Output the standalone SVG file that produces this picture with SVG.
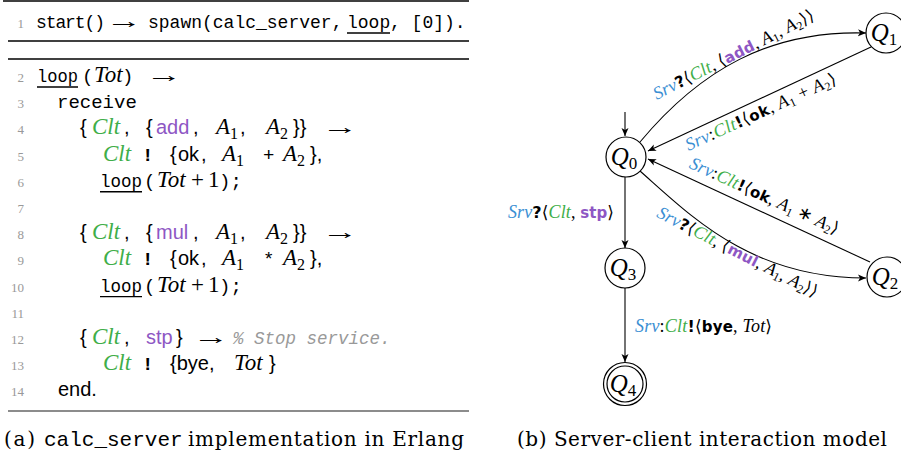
<svg xmlns="http://www.w3.org/2000/svg" width="901" height="460" viewBox="0 0 901 460">
<style>
.ln{font-family:"Liberation Serif",serif;font-size:13px;fill:#999;text-anchor:end}
.tt{font-family:"Liberation Mono",monospace;font-size:19px}
.t1{font-family:"Liberation Mono",monospace;font-size:18px}
.tb{font-family:"Liberation Mono",monospace;font-size:19px;font-weight:bold}
.sf{font-family:"Liberation Sans",sans-serif;font-size:20px}
.mi{font-family:"Liberation Serif",serif;font-style:italic;font-size:23px}
.rm{font-family:"Liberation Serif",serif;font-size:23px}
.sb{font-family:"Liberation Serif",serif;font-style:normal;font-size:16px}
.ar{font-family:"Liberation Serif",serif;font-size:22px}
.cm{font-family:"Liberation Mono",monospace;font-style:italic;font-size:17.5px;fill:#999}
.g{fill:#3fae49}.p{fill:#8e57c4}.b{fill:#3b8fd3}
.ul{stroke:#000;stroke-width:1.4}
.rule{stroke:#000;stroke-width:1.4}
.cap{font-family:"DejaVu Serif",serif;font-size:20px}
.capt{font-family:"Liberation Mono",monospace;font-size:21px}
.li{font-family:"Liberation Serif",serif;font-style:italic;font-size:18px}
.lr{font-family:"Liberation Serif",serif;font-size:18px}
.lb{font-family:"DejaVu Sans",sans-serif;font-weight:bold;font-size:15px}
.lq{font-family:"DejaVu Sans",sans-serif;font-weight:bold;font-size:16px}
.an{font-family:"DejaVu Serif",serif;font-size:17px}
.ls{font-family:"Liberation Serif",serif;font-size:12px}
.node{fill:#fff;stroke:#000;stroke-width:1.2}
.q{font-family:"Liberation Serif",serif;font-style:italic;font-size:25px}
.qs{font-family:"Liberation Serif",serif;font-style:normal;font-size:17px}
.edge{fill:none;stroke:#000;stroke-width:1.1;marker-end:url(#ah)}
</style>
<defs>
<marker id="ah" markerUnits="userSpaceOnUse" markerWidth="10" markerHeight="8" refX="8" refY="4" orient="auto">
<path d="M0,0.5 L8,4 L0,7.5 L2,4 z" fill="#000"/>
</marker>
</defs>
<rect width="901" height="460" fill="#fff"/>

<g id="listing">
<line class="rule" x1="3" y1="1" x2="469" y2="1"/>
<line class="rule" x1="8" y1="41" x2="469" y2="41"/>
<line class="rule" x1="8" y1="59" x2="469" y2="59"/>
<line x1="8" y1="411" x2="469" y2="411" stroke="#666" stroke-width="1.5"/>

<text class="ln" x="24" y="28">1</text>
<text class="t1" x="36" y="28" textLength="69">start()</text>
<text class="ar" transform="translate(106,28) scale(1.65,1)">→</text>
<text class="t1" x="148" y="28">spawn(calc_server,</text>
<text class="t1" x="347" y="28">loop</text>
<line class="ul" x1="347" y1="33" x2="390" y2="33"/>
<text class="t1" x="390" y="28">, [0]).</text>

<text class="ln" x="24" y="82">2</text>
<text class="tt" x="37" y="82" textLength="41" lengthAdjust="spacingAndGlyphs">loop</text>
<line class="ul" x1="37" y1="87" x2="78" y2="87"/>
<text class="tt" x="82" y="82">(</text>
<text class="mi" x="94" y="82">Tot</text>
<text class="tt" x="122" y="82">)</text>
<text class="ar" transform="translate(146,82) scale(1.65,1)">→</text>

<text class="ln" x="24" y="108.2">3</text>
<text class="tt" x="57" y="108.2">receive</text>

<text class="ln" x="24" y="134.4">4</text>
<text class="sf" x="80" y="134.4">{</text>
<text class="mi g" x="92" y="134.4">Clt</text>
<text class="sf" x="124" y="134.4">,</text>
<text class="sf" x="146" y="134.4">{</text>
<text class="sf p" x="156" y="134.4">add</text>
<text class="sf" x="193" y="134.4">,</text>
<text class="mi" x="216" y="134.4">A<tspan class="sb" dy="5">1</tspan></text>
<text class="sf" x="240" y="134.4">,</text>
<text class="mi" x="266" y="134.4">A<tspan class="sb" dy="5">2</tspan></text>
<text class="sf" x="293" y="134.4">}}</text>
<text class="ar" transform="translate(322,134.4) scale(1.65,1)">→</text>

<text class="ln" x="24" y="160.6">5</text>
<text class="mi g" x="103" y="160.6">Clt</text>
<text class="tb" x="142" y="160.6">!</text>
<text class="sf" x="170" y="160.6">{</text>
<text class="sf" x="178" y="160.6">ok</text>
<text class="sf" x="201" y="160.6">,</text>
<text class="mi" x="222" y="160.6">A<tspan class="sb" dy="5">1</tspan></text>
<text class="tt" x="263" y="160.6">+</text>
<text class="mi" x="283" y="160.6">A<tspan class="sb" dy="5">2</tspan></text>
<text class="sf" x="310" y="160.6">},</text>

<text class="ln" x="24" y="186.8">6</text>
<text class="tt" x="100" y="186.8" textLength="42" lengthAdjust="spacingAndGlyphs">loop</text>
<line class="ul" x1="100" y1="191.8" x2="142" y2="191.8"/>
<text class="tt" x="144" y="186.8">(</text>
<text class="mi" x="157" y="186.8">Tot</text>
<text class="rm" x="191" y="186.8">+</text>
<text class="rm" x="208" y="186.8">1</text>
<text class="tt" x="219" y="186.8">);</text>

<text class="ln" x="24" y="213">7</text>

<text class="ln" x="24" y="239.2">8</text>
<text class="sf" x="80" y="239.2">{</text>
<text class="mi g" x="92" y="239.2">Clt</text>
<text class="sf" x="124" y="239.2">,</text>
<text class="sf" x="146" y="239.2">{</text>
<text class="sf p" x="156" y="239.2">mul</text>
<text class="sf" x="193" y="239.2">,</text>
<text class="mi" x="216" y="239.2">A<tspan class="sb" dy="5">1</tspan></text>
<text class="sf" x="240" y="239.2">,</text>
<text class="mi" x="266" y="239.2">A<tspan class="sb" dy="5">2</tspan></text>
<text class="sf" x="293" y="239.2">}}</text>
<text class="ar" transform="translate(322,239.2) scale(1.65,1)">→</text>

<text class="ln" x="24" y="265.4">9</text>
<text class="mi g" x="103" y="265.4">Clt</text>
<text class="tb" x="142" y="265.4">!</text>
<text class="sf" x="170" y="265.4">{</text>
<text class="sf" x="178" y="265.4">ok</text>
<text class="sf" x="201" y="265.4">,</text>
<text class="mi" x="222" y="265.4">A<tspan class="sb" dy="5">1</tspan></text>
<text class="tt" x="263" y="265.4">*</text>
<text class="mi" x="283" y="265.4">A<tspan class="sb" dy="5">2</tspan></text>
<text class="sf" x="310" y="265.4">},</text>

<text class="ln" x="24" y="291.6">10</text>
<text class="tt" x="100" y="291.6" textLength="42" lengthAdjust="spacingAndGlyphs">loop</text>
<line class="ul" x1="100" y1="296.6" x2="142" y2="296.6"/>
<text class="tt" x="144" y="291.6">(</text>
<text class="mi" x="157" y="291.6">Tot</text>
<text class="rm" x="191" y="291.6">+</text>
<text class="rm" x="208" y="291.6">1</text>
<text class="tt" x="219" y="291.6">);</text>

<text class="ln" x="24" y="317.8">11</text>

<text class="ln" x="24" y="344">12</text>
<text class="sf" x="80" y="344">{</text>
<text class="mi g" x="92" y="344">Clt</text>
<text class="sf" x="124" y="344">,</text>
<text class="sf p" x="146" y="344">stp</text>
<text class="sf" x="176" y="344">}</text>
<text class="ar" transform="translate(193,344) scale(1.65,1)">→</text>
<text class="cm" x="233" y="344">% Stop service.</text>

<text class="ln" x="24" y="370.2">13</text>
<text class="mi g" x="103" y="370.2">Clt</text>
<text class="tb" x="142" y="370.2">!</text>
<text class="sf" x="170" y="370.2">{bye,</text>
<text class="mi" x="234" y="370.2">Tot</text>
<text class="sf" x="269" y="370.2">}</text>

<text class="ln" x="24" y="396.4">14</text>
<text class="sf" x="58" y="396.4">end.</text>

<text class="cap" x="4" y="446" textLength="31">(a)</text>
<text class="capt" x="44" y="446">calc_server</text>
<text class="cap" x="188" y="446" textLength="276">implementation in Erlang</text>
</g>

<g id="connectors">
<path class="edge" d="M625,112 L625,136"/>
<path class="edge" d="M640,142 C700,70 770,30 866,33"/>
<path class="edge" d="M871,47 L648,151"/>
<path class="edge" d="M870,262 L648,159"/>
<path class="edge" d="M640,171 C690,215 750,278 866,278"/>
<path class="edge" d="M625,177 L625,248"/>
<path class="edge" d="M625,288 L625,362"/>

<text transform="translate(736,59.5) rotate(-27)" text-anchor="middle" textLength="178"><tspan class="li b">Srv</tspan><tspan class="lq">?</tspan><tspan class="an">⟨</tspan><tspan class="li g">Clt</tspan><tspan class="lr">, </tspan><tspan class="an">⟨</tspan><tspan class="lb p">add</tspan><tspan class="lr">, </tspan><tspan class="li">A</tspan><tspan class="ls" dy="3">1</tspan><tspan class="lr" dy="-3">, </tspan><tspan class="li">A</tspan><tspan class="ls" dy="3">2</tspan><tspan class="an" dy="-3">⟩⟩</tspan></text>

<text transform="translate(763,117) rotate(-24.5)" text-anchor="middle" textLength="164"><tspan class="li b">Srv</tspan><tspan class="lr">:</tspan><tspan class="li g">Clt</tspan><tspan class="lq">!</tspan><tspan class="an">⟨</tspan><tspan class="lb">ok</tspan><tspan class="lr">, </tspan><tspan class="li">A</tspan><tspan class="ls" dy="3">1</tspan><tspan class="lr" dy="-3"> + </tspan><tspan class="li">A</tspan><tspan class="ls" dy="3">2</tspan><tspan class="an" dy="-3">⟩</tspan></text>

<text transform="translate(762,201) rotate(24.5)" text-anchor="middle" textLength="162"><tspan class="li b">Srv</tspan><tspan class="lr">:</tspan><tspan class="li g">Clt</tspan><tspan class="lq">!</tspan><tspan class="an">⟨</tspan><tspan class="lb">ok</tspan><tspan class="lr">, </tspan><tspan class="li">A</tspan><tspan class="ls" dy="3">1</tspan><tspan class="lr" dy="-3"> ∗ </tspan><tspan class="li">A</tspan><tspan class="ls" dy="3">2</tspan><tspan class="an" dy="-3">⟩</tspan></text>

<text transform="translate(735,257) rotate(27)" text-anchor="middle" textLength="178"><tspan class="li b">Srv</tspan><tspan class="lq">?</tspan><tspan class="an">⟨</tspan><tspan class="li g">Clt</tspan><tspan class="lr">, </tspan><tspan class="an">⟨</tspan><tspan class="lb p">mul</tspan><tspan class="lr">, </tspan><tspan class="li">A</tspan><tspan class="ls" dy="3">1</tspan><tspan class="lr" dy="-3">, </tspan><tspan class="li">A</tspan><tspan class="ls" dy="3">2</tspan><tspan class="an" dy="-3">⟩⟩</tspan></text>

<text x="508" y="218" textLength="106"><tspan class="li b">Srv</tspan><tspan class="lq">?</tspan><tspan class="an">⟨</tspan><tspan class="li g">Clt</tspan><tspan class="lr">, </tspan><tspan class="lb p">stp</tspan><tspan class="an">⟩</tspan></text>

<text x="635" y="332" textLength="137"><tspan class="li b">Srv</tspan><tspan class="lr">:</tspan><tspan class="li g">Clt</tspan><tspan class="lq">!</tspan><tspan class="an">⟨</tspan><tspan class="lb">bye</tspan><tspan class="lr">, </tspan><tspan class="li">Tot</tspan><tspan class="an">⟩</tspan></text>
</g>

<g id="Q0">
<circle class="node" cx="626" cy="157" r="20"/>
<text class="q" x="624" y="165" text-anchor="middle">Q<tspan class="qs" dy="4">0</tspan></text>
</g>
<g id="Q1">
<circle class="node" cx="886" cy="33" r="20"/>
<text class="q" x="884" y="41" text-anchor="middle">Q<tspan class="qs" dy="4">1</tspan></text>
</g>
<g id="Q2">
<circle class="node" cx="887" cy="277" r="20"/>
<text class="q" x="885" y="285" text-anchor="middle">Q<tspan class="qs" dy="4">2</tspan></text>
</g>
<g id="Q3">
<circle class="node" cx="625" cy="268" r="20"/>
<text class="q" x="623" y="276" text-anchor="middle">Q<tspan class="qs" dy="4">3</tspan></text>
</g>
<g id="Q4">
<circle class="node" cx="625" cy="384" r="21.5"/>
<circle class="node" cx="625" cy="384" r="18"/>
<text class="q" x="623" y="392" text-anchor="middle">Q<tspan class="qs" dy="4">4</tspan></text>
</g>

<text class="cap" x="517" y="446" textLength="370">(b) Server-client interaction model</text>
</svg>
